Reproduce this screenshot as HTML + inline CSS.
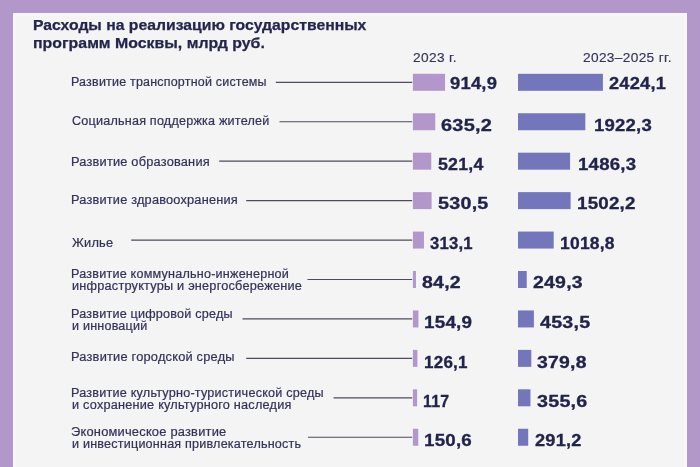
<!DOCTYPE html>
<html lang="ru"><head><meta charset="utf-8"><title>Расходы на реализацию государственных программ Москвы</title>
<style>
html,body{margin:0;padding:0}
body{width:700px;height:467px;overflow:hidden;background:#b297ca;position:relative;font-family:"Liberation Sans",sans-serif;color:#2b2b52}
.panel{position:absolute;left:13px;top:12.6px;width:674.2px;height:460px;background:#f3f4f3;box-shadow:inset 0 0 0 3px #f6f6f2}
.t{position:absolute;white-space:nowrap;line-height:1;transform-origin:0 50%}
.title{font-weight:bold;font-size:15px;color:#23254c;-webkit-text-stroke:.25px #23254c}
.hd{font-size:12px;letter-spacing:.3px;color:#34335a;-webkit-text-stroke:.15px #34335a}
.lb{font-size:12px;letter-spacing:.2px;color:#33315a;-webkit-text-stroke:.2px #33315a}
.v{font-weight:bold;font-size:17px;letter-spacing:.2px;color:#21234b;-webkit-text-stroke:.3px #21234b}
.g{position:absolute;left:0;top:0}
.ln{stroke:#52485f;stroke-width:1.15}
.b1{fill:#b397cb}
.b2{fill:#7376bb}
</style></head><body>
<div class="panel"></div>
<svg class="g" width="700" height="467" viewBox="0 0 700 467">
<line class="ln" x1="275.8" y1="82.30" x2="412.2" y2="82.30"/>
<rect class="b1" x="412.9" y="73.80" width="32.15" height="17"/>
<rect class="b2" x="518" y="73.80" width="84.92" height="17"/>
<line class="ln" x1="279.5" y1="121.74" x2="412.2" y2="121.74"/>
<rect class="b1" x="412.9" y="113.24" width="22.35" height="17"/>
<rect class="b2" x="518" y="113.24" width="67.34" height="17"/>
<line class="ln" x1="219.2" y1="161.18" x2="412.2" y2="161.18"/>
<rect class="b1" x="412.9" y="152.68" width="18.36" height="17"/>
<rect class="b2" x="518" y="152.68" width="52.07" height="17"/>
<line class="ln" x1="246.2" y1="200.62" x2="412.2" y2="200.62"/>
<rect class="b1" x="412.9" y="192.12" width="18.68" height="17"/>
<rect class="b2" x="518" y="192.12" width="52.62" height="17"/>
<line class="ln" x1="131.2" y1="240.06" x2="412.2" y2="240.06"/>
<rect class="b1" x="412.9" y="231.56" width="11.07" height="17"/>
<rect class="b2" x="518" y="231.56" width="35.69" height="17"/>
<line class="ln" x1="307.5" y1="279.50" x2="412.2" y2="279.50"/>
<rect class="b1" x="412.9" y="271.00" width="3.05" height="17"/>
<rect class="b2" x="518" y="271.00" width="8.73" height="17"/>
<line class="ln" x1="242.5" y1="318.94" x2="412.2" y2="318.94"/>
<rect class="b1" x="412.9" y="310.44" width="5.53" height="17"/>
<rect class="b2" x="518" y="310.44" width="15.89" height="17"/>
<line class="ln" x1="246.2" y1="358.38" x2="412.2" y2="358.38"/>
<rect class="b1" x="412.9" y="349.88" width="4.52" height="17"/>
<rect class="b2" x="518" y="349.88" width="13.30" height="17"/>
<line class="ln" x1="333.6" y1="397.82" x2="412.2" y2="397.82"/>
<rect class="b1" x="412.9" y="389.32" width="4.20" height="17"/>
<rect class="b2" x="518" y="389.32" width="12.46" height="17"/>
<line class="ln" x1="307.9" y1="437.26" x2="412.2" y2="437.26"/>
<rect class="b1" x="412.9" y="428.76" width="5.38" height="17"/>
<rect class="b2" x="518" y="428.76" width="10.20" height="17"/>
</svg>
<div class="t title" style="left:33.05px;top:17.40px;transform:scaleX(1.0497)">Расходы на реализацию государственных</div>
<div class="t title" style="left:32.98px;top:35.20px;transform:scaleX(1.0585)">программ Москвы, млрд руб.</div>
<div class="t hd" style="left:412.56px;top:52.24px;transform:scaleX(1.1416)">2023 г.</div>
<div class="t hd" style="left:582.76px;top:52.24px;transform:scaleX(1.1396)">2023–2025 гг.</div>
<div class="t lb" style="left:71.38px;top:76.14px;transform:scaleX(1.0399)">Развитие транспортной системы</div>
<div class="t v" style="left:450.28px;top:75.00px;transform:scaleX(1.0823)">914,9</div>
<div class="t v" style="left:609.23px;top:75.00px;transform:scaleX(1.0722)">2424,1</div>
<div class="t lb" style="left:71.54px;top:114.78px;transform:scaleX(1.0498)">Социальная поддержка жителей</div>
<div class="t v" style="left:440.71px;top:116.50px;transform:scaleX(1.1735)">635,2</div>
<div class="t v" style="left:593.76px;top:116.50px;transform:scaleX(1.0895)">1922,3</div>
<div class="t lb" style="left:71.35px;top:156.22px;transform:scaleX(1.0642)">Развитие образования</div>
<div class="t v" style="left:438.42px;top:155.90px;transform:scaleX(1.0444)">521,4</div>
<div class="t v" style="left:577.50px;top:155.90px;transform:scaleX(1.0944)">1486,3</div>
<div class="t lb" style="left:71.36px;top:194.11px;transform:scaleX(1.0612)">Развитие здравоохранения</div>
<div class="t v" style="left:438.16px;top:195.30px;transform:scaleX(1.1611)">530,5</div>
<div class="t v" style="left:577.49px;top:195.30px;transform:scaleX(1.1035)">1502,2</div>
<div class="t lb" style="left:71.58px;top:236.85px;transform:scaleX(1.0677)">Жилье</div>
<div class="t v" style="left:429.72px;top:234.80px;transform:scaleX(0.9836)">313,1</div>
<div class="t v" style="left:560.08px;top:234.80px;transform:scaleX(1.0297)">1018,8</div>
<div class="t lb" style="left:71.37px;top:267.69px;transform:scaleX(1.0501)">Развитие коммунально-инженерной</div>
<div class="t lb" style="left:71.55px;top:279.69px;transform:scaleX(1.0603)">инфраструктуры и энергосбережение</div>
<div class="t v" style="left:421.53px;top:274.30px;transform:scaleX(1.1502)">84,2</div>
<div class="t v" style="left:533.47px;top:274.30px;transform:scaleX(1.1455)">249,3</div>
<div class="t lb" style="left:71.37px;top:308.38px;transform:scaleX(1.0502)">Развитие цифровой среды</div>
<div class="t lb" style="left:71.56px;top:320.38px;transform:scaleX(1.0465)">и инноваций</div>
<div class="t v" style="left:423.74px;top:314.10px;transform:scaleX(1.1079)">154,9</div>
<div class="t v" style="left:540.13px;top:314.10px;transform:scaleX(1.1558)">453,5</div>
<div class="t lb" style="left:71.35px;top:351.07px;transform:scaleX(1.0673)">Развитие городской среды</div>
<div class="t v" style="left:424.36px;top:353.60px;transform:scaleX(1.0037)">126,1</div>
<div class="t v" style="left:537.10px;top:353.60px;transform:scaleX(1.1403)">379,8</div>
<div class="t lb" style="left:71.36px;top:387.01px;transform:scaleX(1.0524)">Развитие культурно-туристической среды</div>
<div class="t lb" style="left:71.55px;top:399.01px;transform:scaleX(1.0594)">и сохранение культурного наследия</div>
<div class="t v" style="left:423.19px;top:392.90px;transform:scaleX(0.9341)">117</div>
<div class="t v" style="left:537.09px;top:392.90px;transform:scaleX(1.1596)">355,6</div>
<div class="t lb" style="left:71.42px;top:425.95px;transform:scaleX(1.0719)">Экономическое развитие</div>
<div class="t lb" style="left:71.56px;top:437.95px;transform:scaleX(1.0479)">и инвестиционная привлекательность</div>
<div class="t v" style="left:424.49px;top:432.00px;transform:scaleX(1.1028)">150,6</div>
<div class="t v" style="left:535.38px;top:432.00px;transform:scaleX(1.0695)">291,2</div>
</body></html>
